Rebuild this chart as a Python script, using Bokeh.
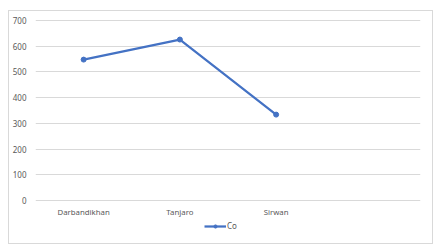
from bokeh.plotting import figure
from bokeh.models import FactorRange, Range1d, Legend, LegendItem, FixedTicker
from bokeh.core.properties import value
from bokeh.embed import file_html
from bokeh.resources import INLINE

categories = ["Darbandikhan", "Tanjaro", "Sirwan"]
co_values = [548, 626, 334]
y_ticks = [0, 100, 200, 300, 400, 500, 600, 700]
label_y = [-43, -43, -43]

factors = categories + [" "]

p = figure(frame_width=385, frame_height=222, x_range=FactorRange(*factors, range_padding=0),
           y_range=Range1d(-159.6, 704), output_backend="svg", toolbar_location=None,
           min_border_left=25, min_border_right=12, min_border_top=8, min_border_bottom=2)
p.margin = (10, 0, 0, 8)
p.styles = {"border": "1px solid #d9d9d9"}
p.outline_line_color = None

r = p.line(categories, co_values, line_color="#4472C4", line_width=2.25)
c = p.scatter(categories, co_values, size=5, color="#4472C4")

p.text(x=categories, y=label_y, text=categories, text_align="center",
       text_baseline="middle", text_font=value("Noto Sans"),
       text_font_size="7.8px", text_color="#595959")

p.xaxis.visible = False

ax = p.yaxis
ax.axis_line_color = None
ax.major_tick_line_color = None
ax.minor_tick_line_color = None
ax.major_tick_out = 0
ax.major_tick_in = 0
ax.minor_tick_out = 0
ax.minor_tick_in = 0
ax.major_label_text_font = "Noto Sans"
ax.major_label_text_color = "#595959"
ax.ticker = FixedTicker(ticks=y_ticks)
ax.major_label_standoff = 9
ax.major_label_text_font_size = "8px"

p.xgrid.grid_line_color = None
p.ygrid.ticker = FixedTicker(ticks=y_ticks)
p.ygrid.grid_line_color = "#d9d9d9"
p.ygrid.grid_line_width = 1

legend = Legend(items=[LegendItem(label="Co", renderers=[r, c])],
                location=(169, 10), orientation="horizontal",
                label_text_font="Noto Sans", label_text_font_size="8px",
                label_text_color="#595959", background_fill_alpha=0,
                border_line_color=None, glyph_width=22, glyph_height=8,
                label_standoff=1, label_height=8, padding=0, margin=0,
                spacing=0)
p.add_layout(legend, "center")

open("out.html", "w").write(file_html(p, INLINE))
